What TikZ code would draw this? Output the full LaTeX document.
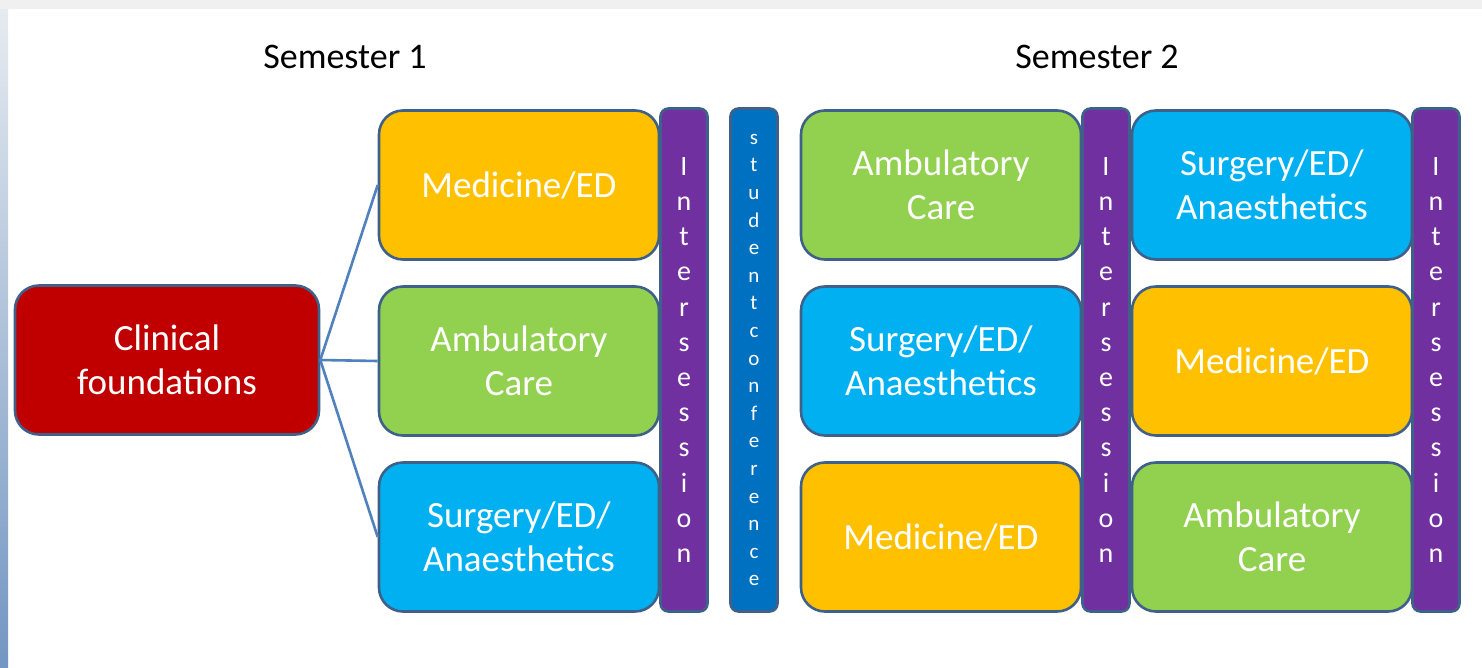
\documentclass[tikz,border=0pt]{standalone}
\usepackage{fontspec}
\setmainfont{Carlito}
\begin{document}
\begin{tikzpicture}[x=1pt,y=-1pt,
  box/.style={draw=bordc, line width=2.6pt, rounded corners=24pt, text=white,
    minimum width=280pt, minimum height=149pt, align=center, inner sep=0pt,
    font=\fontsize{37}{44}\selectfont},
  bar/.style={draw=bordc, line width=2.6pt, rounded corners=8pt, text=white,
    minimum width=47pt, minimum height=503pt, align=center, inner sep=0pt},
  inter/.style={bar, fill=purp, font=\fontsize{28}{35.2}\selectfont},
  conf/.style={bar, fill=confb, font=\fontsize{21}{27.6}\selectfont},
  link/.style={draw=linkc, line width=2.6pt},
  sem/.style={font=\fontsize{36}{40}\selectfont, text=black}
]
\definecolor{bordc}{HTML}{3E6089}
\definecolor{linkc}{HTML}{4F81BD}
\definecolor{yel}{HTML}{FFC000}
\definecolor{grn}{HTML}{92D050}
\definecolor{lbl}{HTML}{00B0F0}
\definecolor{purp}{HTML}{7030A0}
\definecolor{confb}{HTML}{0070C0}
\definecolor{redc}{HTML}{C00000}
\definecolor{stripa}{HTML}{E6EBF0}
\definecolor{stripb}{HTML}{7396C2}
\useasboundingbox (0,0) rectangle (1482,667);
\fill[white] (0,0) rectangle (1482,667);
\fill[black!6] (0,0) rectangle (1482,9);
\shade[top color=stripa, bottom color=stripb] (0,9) rectangle (8,667);

\node[sem] (s1) at (345,57) {Semester 1};
\node[sem] (s2) at (1097,57) {Semester 2};

\node[box, fill=redc, minimum width=304pt] (cf) at (167,360) {Clinical\\foundations};

\node[box, fill=yel] (a1) at (519,185) {Medicine/ED};
\node[box, fill=grn] (a2) at (519,361) {Ambulatory\\Care};
\node[box, fill=lbl] (a3) at (519,537) {Surgery/ED/\\Anaesthetics};

\node[inter] (i1) at (684,360) {I\\n\\t\\e\\r\\s\\e\\s\\s\\i\\o\\n};
\node[conf] (sc) at (754,360) {s\\t\\u\\d\\e\\n\\t\\c\\o\\n\\f\\e\\r\\e\\n\\c\\e};

\node[box, fill=grn] (b1) at (941,185) {Ambulatory\\Care};
\node[box, fill=lbl] (b2) at (941,361) {Surgery/ED/\\Anaesthetics};
\node[box, fill=yel] (b3) at (941,537) {Medicine/ED};

\node[inter] (i2) at (1106,360) {I\\n\\t\\e\\r\\s\\e\\s\\s\\i\\o\\n};

\node[box, fill=lbl] (c1) at (1272,185) {Surgery/ED/\\Anaesthetics};
\node[box, fill=yel] (c2) at (1272,361) {Medicine/ED};
\node[box, fill=grn] (c3) at (1272,537) {Ambulatory\\Care};

\node[inter] (i3) at (1436,360) {I\\n\\t\\e\\r\\s\\e\\s\\s\\i\\o\\n};

\draw[link] (cf.east) -- (a1.west);
\draw[link] (cf.east) -- (a2.west);
\draw[link] (cf.east) -- (a3.west);
\end{tikzpicture}
\end{document}
